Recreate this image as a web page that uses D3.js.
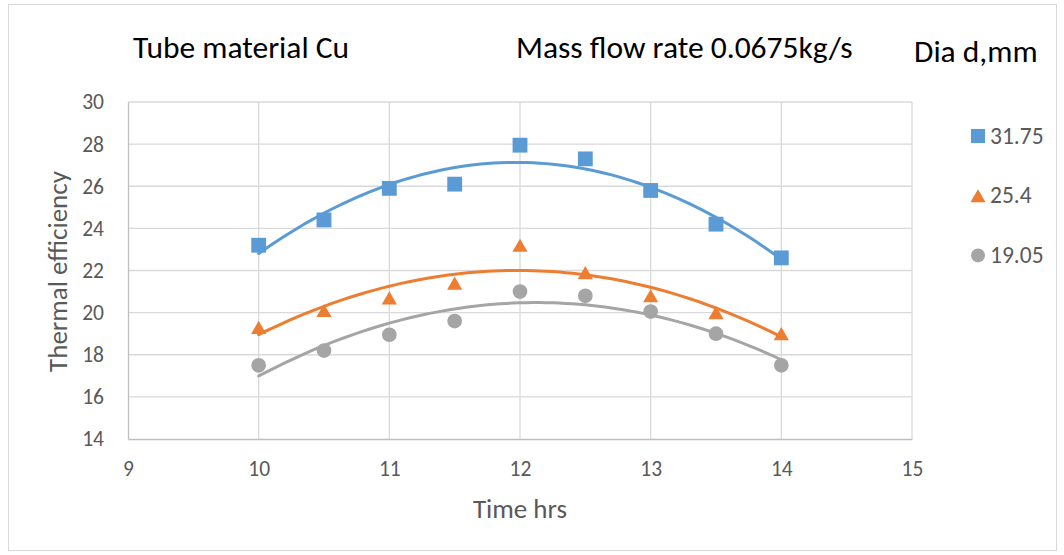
<!DOCTYPE html>
<html>
<head>
<meta charset="utf-8">
<style>
  body { margin: 0; background: #fff; }
  text { font-family: Carlito, "Liberation Sans", Arial, sans-serif; }
</style>
</head>
<body>
<svg id="chart" width="1064" height="555"></svg>
<script src="https://cdn.jsdelivr.net/npm/d3@7"></script>
<script>

// time in hours
var hours = [10, 10.5, 11, 11.5, 12, 12.5, 13, 13.5, 14];

// thermal efficiency for each tube diameter (mm)
var dia3175 = [23.2, 24.4, 25.9, 26.1, 27.95, 27.3, 25.8, 24.2, 22.6];
var dia254  = [19.3, 20.1, 20.7, 21.4, 23.2, 21.9, 20.8, 20.0, 19.0];
var dia1905 = [17.5, 18.2, 18.95, 19.6, 21.0, 20.8, 20.05, 19.0, 17.5];

var seriesNames = ["31.75", "25.4", "19.05"];
var seriesColors = ["#5B9BD5", "#ED7D31", "#A5A5A5"];
var seriesShapes = [d3.symbolSquare, d3.symbolTriangle, d3.symbolCircle];

var xTicks = [9, 10, 11, 12, 13, 14, 15];
var yTicks = [14, 16, 18, 20, 22, 24, 26, 28, 30];

var series = [dia3175, dia254, dia1905].map(function(vals, i) {
  return {
    name: seriesNames[i],
    color: seriesColors[i],
    shape: seriesShapes[i],
    points: hours.map(function(h, j) { return { x: h, y: vals[j] }; })
  };
});

var svg = d3.select("#chart"),
    width = +svg.attr("width"),
    height = +svg.attr("height");

var plot = { left: 128, right: 912, top: 102, bottom: 439 };

var x = d3.scaleLinear().domain([9, 15]).range([plot.left, plot.right]);
var y = d3.scaleLinear().domain([14, 30]).range([plot.bottom, plot.top]);

// chart frame
svg.append("rect")
    .attr("x", 8.5).attr("y", 4.5)
    .attr("width", 1048).attr("height", 546)
    .attr("fill", "#fff")
    .attr("stroke", "#D9D9D9");

// gridlines
var grid = svg.append("g").attr("stroke", "#D9D9D9").attr("stroke-width", 1.3);
grid.selectAll(".hg").data(yTicks.slice(1))
  .enter().append("line")
    .attr("x1", plot.left).attr("x2", plot.right)
    .attr("y1", function(d) { return y(d); })
    .attr("y2", function(d) { return y(d); });
grid.selectAll(".vg").data(xTicks.slice(1))
  .enter().append("line")
    .attr("y1", plot.top).attr("y2", plot.bottom)
    .attr("x1", function(d) { return x(d); })
    .attr("x2", function(d) { return x(d); });

// axes
var xAxis = svg.append("g")
    .attr("transform", "translate(0," + plot.bottom + ")")
    .call(d3.axisBottom(x).tickValues(xTicks).tickFormat(d3.format("d")).tickSize(0).tickPadding(22));
var yAxis = svg.append("g")
    .attr("transform", "translate(" + plot.left + ",0)")
    .call(d3.axisLeft(y).tickValues(yTicks).tickFormat(d3.format("d")).tickSize(0).tickPadding(24));

[xAxis, yAxis].forEach(function(ax) {
  ax.select(".domain").attr("stroke", "#BFBFBF").attr("stroke-width", 1.3);
  ax.selectAll("text")
      .attr("fill", "#595959")
      .style("font-size", "21.5px")
      .style("font-family", 'Carlito, "Liberation Sans", Arial, sans-serif');
});

// quadratic least-squares trendline (Excel polynomial, order 2)
function polyFit(pts) {
  var n = pts.length, s1 = 0, s2 = 0, s3 = 0, s4 = 0, sy = 0, sxy = 0, sx2y = 0;
  pts.forEach(function(p) {
    var t = p.x;
    s1 += t; s2 += t * t; s3 += t * t * t; s4 += t * t * t * t;
    sy += p.y; sxy += t * p.y; sx2y += t * t * p.y;
  });
  var m = [[n, s1, s2, sy], [s1, s2, s3, sxy], [s2, s3, s4, sx2y]];
  for (var i = 0; i < 3; i++) {
    for (var k = i + 1; k < 3; k++) {
      var f = m[k][i] / m[i][i];
      for (var j = i; j < 4; j++) m[k][j] -= f * m[i][j];
    }
  }
  var c = [0, 0, 0];
  for (var i = 2; i >= 0; i--) {
    var s = m[i][3];
    for (var j = i + 1; j < 3; j++) s -= m[i][j] * c[j];
    c[i] = s / m[i][i];
  }
  return function(t) { return c[0] + c[1] * t + c[2] * t * t; };
}

var line = d3.line()
    .x(function(d) { return x(d[0]); })
    .y(function(d) { return y(d[1]); });

var trendX = d3.range(10, 14.0001, 0.05);

series.forEach(function(s) {
  var f = polyFit(s.points);
  svg.append("path")
      .datum(trendX.map(function(t) { return [t, f(t)]; }))
      .attr("fill", "none")
      .attr("stroke", s.color)
      .attr("stroke-width", 3)
      .attr("stroke-linecap", "round")
      .attr("d", line);
});

// markers
function symbolSize(shape) {
  if (shape === d3.symbolSquare) return 220;
  if (shape === d3.symbolTriangle) return 100;
  return 170;
}
// triangles are drawn round their bounding box centre, as Excel does
function shapeShift(shape) { return shape === d3.symbolTriangle ? 2.2 : 0; }

series.forEach(function(s) {
  svg.append("g").selectAll("path")
      .data(s.points)
    .enter().append("path")
      .attr("transform", function(d) {
        return "translate(" + x(d.x) + "," + (y(d.y) + shapeShift(s.shape)) + ")";
      })
      .attr("d", d3.symbol().type(s.shape).size(symbolSize(s.shape)))
      .attr("fill", s.color);
});

// legend
var legend = svg.append("g");
series.forEach(function(s, i) {
  var cy = 136 + i * 59.7;
  legend.append("path")
      .attr("transform", "translate(978," + (cy + shapeShift(s.shape)) + ")")
      .attr("d", d3.symbol().type(s.shape).size(s.shape === d3.symbolTriangle ? 100 : symbolSize(s.shape) * 0.9))
      .attr("fill", s.color);
  legend.append("text")
      .attr("x", 990).attr("y", cy)
      .attr("dy", "0.33em")
      .attr("fill", "#595959")
      .style("font-size", "23.5px")
      .text(s.name);
});

// axis titles
svg.append("text")
    .attr("x", x(12)).attr("y", 518)
    .attr("text-anchor", "middle")
    .attr("fill", "#595959")
    .style("font-size", "27px")
    .text("Time hrs");

svg.append("text")
    .attr("transform", "translate(67," + ((plot.top + plot.bottom) / 2 + 1) + ") rotate(-90)")
    .attr("text-anchor", "middle")
    .attr("fill", "#595959")
    .style("font-size", "27px")
    .text("Thermal efficiency");

// titles
svg.append("text")
    .attr("x", 133).attr("y", 58)
    .attr("fill", "#000")
    .style("font-size", "31.5px")
    .text("Tube material Cu");

svg.append("text")
    .attr("x", 516).attr("y", 58)
    .attr("fill", "#000")
    .style("font-size", "31.5px")
    .text("Mass flow rate 0.0675kg/s");

svg.append("text")
    .attr("x", 914).attr("y", 62)
    .attr("fill", "#000")
    .style("font-size", "31.5px")
    .text("Dia d,mm");

</script>
</body>
</html>
